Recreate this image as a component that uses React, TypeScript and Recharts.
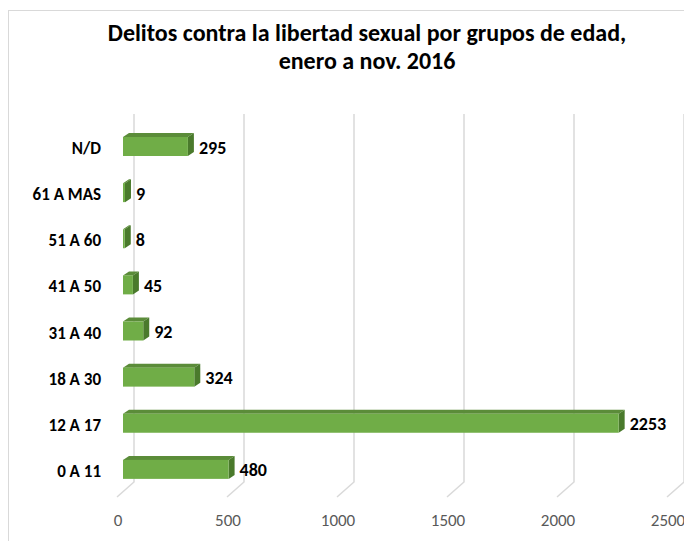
import React from 'react';
import { BarChart, Bar, XAxis, YAxis, CartesianGrid, LabelList } from 'recharts';

const groups = ['N/D', '61 A MAS', '51 A 60', '41 A 50', '31 A 40', '18 A 30', '12 A 17', '0 A 11'];
const cases = [295, 9, 8, 45, 92, 324, 2253, 480];
const xTicks = [0, 500, 1000, 1500, 2000, 2500];

const data = groups.map((name, i) => ({ name, value: cases[i] }));

const FONT = 'Carlito, Calibri, Lato, "Open Sans", sans-serif';
const DEPTH_X = 6;
const DEPTH_Y = 4;

// 3D box bar: front face, top face, right side
const BoxBar = (props: any) => {
  const { x, y, width, height } = props;
  const w = Math.max(width, 1);
  return (
    <g>
      <polygon
        points={`${x},${y} ${x + DEPTH_X},${y - DEPTH_Y} ${x + w + DEPTH_X},${y - DEPTH_Y} ${x + w},${y}`}
        fill="#5B8C39"
      />
      <polygon
        points={`${x + w},${y} ${x + w + DEPTH_X},${y - DEPTH_Y} ${x + w + DEPTH_X},${y + height - DEPTH_Y} ${x + w},${y + height}`}
        fill="#4A7A2C"
      />
      <rect x={x} y={y} width={w} height={height} fill="#70AD47" />
    </g>
  );
};

// back wall gridline bending to the floor front edge
const GridLine = (props: any) => {
  const { x1, y1, y2, index } = props;
  const back = x1 + 11;
  return (
    <g key={`grid-${index}`}>
      <polyline
        points={`${back},${y1 - 9} ${back},${y2 - 10} ${x1 - 6},${y2 + 5}`}
        fill="none"
        stroke="#D9D9D9"
        strokeWidth={1.5}
      />
    </g>
  );
};

const CategoryTick = (props: any) => {
  const { y, payload } = props;
  return (
    <text x={101} y={y + 8} textAnchor="end" fontFamily={FONT} fontSize={17} fontWeight={700} fill="#000">
      {payload.value}
    </text>
  );
};

const ValueTick = (props: any) => {
  const { x, y, payload } = props;
  return (
    <text x={x - 5} y={y + 34} textAnchor="middle" fontFamily={FONT} fontSize={17} fill="#595959">
      {payload.value}
    </text>
  );
};

const ValueLabel = (props: any) => {
  const { x, y, width, height, value } = props;
  return (
    <text
      x={x + Math.max(width, 1) + DEPTH_X + 5}
      y={y + height / 2 + 7}
      fontFamily={FONT}
      fontSize={18}
      fontWeight={700}
      fill="#000"
    >
      {value}
    </text>
  );
};

export default function App() {
  return (
    <div style={{ position: 'absolute', left: 0, top: 0, width: 684, height: 541, background: '#fff', overflow: 'hidden' }}>
      <div
        style={{
          position: 'absolute',
          left: 8,
          top: 10,
          width: 720,
          height: 600,
          borderLeft: '1.5px solid #D9D9D9',
          borderTop: '1.5px solid #D9D9D9',
        }}
      />
      <div
        style={{
          position: 'absolute',
          left: 17,
          top: 19,
          width: 700,
          textAlign: 'center',
          fontFamily: FONT,
          fontSize: 24,
          fontWeight: 700,
          lineHeight: '28px',
          color: '#000',
        }}
      >
        Delitos contra la libertad sexual por grupos de edad,
        <br />
        enero a nov. 2016
      </div>
      <div style={{ position: 'absolute', left: 0, top: 0 }}>
        <BarChart
          width={684}
          height={541}
          data={data}
          layout="vertical"
          margin={{ top: 123, right: 11, bottom: 9, left: 0 }}
          barSize={19}
        >
          <CartesianGrid horizontal={false} vertical={GridLine} />
          <XAxis
            type="number"
            domain={[0, 2500]}
            ticks={xTicks}
            axisLine={false}
            tickLine={false}
            tickSize={0}
            tickMargin={0}
            height={40}
            tick={ValueTick}
            interval={0}
          />
          <YAxis
            type="category"
            dataKey="name"
            width={123}
            axisLine={false}
            tickLine={false}
            tick={CategoryTick}
            interval={0}
          />
          <Bar dataKey="value" shape={BoxBar} isAnimationActive={false}>
            <LabelList dataKey="value" content={ValueLabel} />
          </Bar>
        </BarChart>
      </div>
    </div>
  );
}
